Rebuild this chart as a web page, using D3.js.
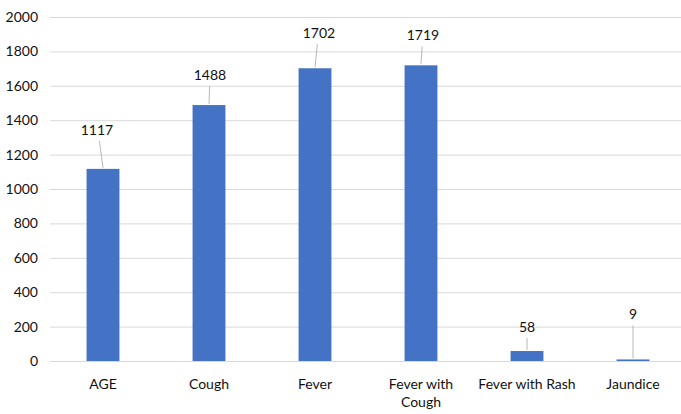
<!DOCTYPE html>
<html>
<head>
<meta charset="utf-8">
<script src="https://cdn.jsdelivr.net/npm/d3@7/dist/d3.min.js"></script>
<style>
  html, body { margin: 0; padding: 0; background: #fff; }
  svg { display: block; }
  text { font-family: 'Gill Sans', 'Lato', 'Open Sans', sans-serif; fill: #111; }
</style>
</head>
<body>
<svg id="chart"></svg>
<script>
const categories = ['AGE', 'Cough', 'Fever', 'Fever with Cough', 'Fever with Rash', 'Jaundice'];
const counts = [1117, 1488, 1702, 1719, 58, 9];
const yTicks = [0, 200, 400, 600, 800, 1000, 1200, 1400, 1600, 1800, 2000];

// hand-dragged data label offsets (px), as in the source sheet
const labelShift = [[-6, -39], [1, -30], [4, -35], [2, -30], [0, -24], [0, -45]];

const width = 681;
const height = 414;
const margin = { top: 17, right: -5, bottom: 53, left: 50 };

const svg = d3.select('#chart')
  .attr('width', width)
  .attr('height', height);

const x = d3.scaleBand()
  .domain(categories)
  .range([margin.left, width - margin.right])
  .paddingInner(0.69)
  .paddingOuter(0.345);

const y = d3.scaleLinear()
  .domain([0, 2000])
  .range([height - margin.bottom, margin.top]);

// gridlines
svg.append('g')
  .selectAll('line')
  .data(yTicks)
  .enter()
  .append('line')
  .attr('x1', margin.left)
  .attr('x2', width)
  .attr('y1', d => y(d) + 0.5)
  .attr('y2', d => y(d) + 0.5)
  .attr('stroke', '#d9d9d9')
  .attr('stroke-width', 1);

// y axis labels
const yAxis = d3.axisLeft(y)
  .tickValues(yTicks)
  .tickFormat(d3.format('d'))
  .tickSize(0)
  .tickPadding(12);
svg.append('g')
  .attr('transform', `translate(${margin.left},0)`)
  .call(yAxis)
  .call(g => g.select('.domain').remove())
  .selectAll('text')
  .style('font-family', "'Gill Sans', 'Lato', 'Open Sans', sans-serif")
  .style('font-size', '14px')
  .attr('fill', '#111');

// bars
svg.append('g')
  .selectAll('rect')
  .data(categories)
  .enter()
  .append('rect')
  .attr('x', d => x(d))
  .attr('width', x.bandwidth())
  .attr('y', (d, i) => y(counts[i]))
  .attr('height', (d, i) => y(0) - y(counts[i]))
  .attr('fill', '#4472c4');

// data labels with leader lines
const labels = svg.append('g')
  .selectAll('g')
  .data(categories)
  .enter()
  .append('g');

labels.append('line')
  .attr('x1', (d, i) => x(d) + x.bandwidth() / 2 + labelShift[i][0] * 0.6)
  .attr('y1', (d, i) => y(counts[i]) + labelShift[i][1] + 11)
  .attr('x2', d => x(d) + x.bandwidth() / 2)
  .attr('y2', (d, i) => y(counts[i]) - 1)
  .attr('stroke', '#a6a6a6')
  .attr('stroke-width', 0.8);

labels.append('text')
  .attr('x', (d, i) => x(d) + x.bandwidth() / 2 + labelShift[i][0])
  .attr('y', (d, i) => y(counts[i]) + labelShift[i][1])
  .attr('dy', '0.35em')
  .attr('text-anchor', 'middle')
  .style('font-size', '14px')
  .text((d, i) => counts[i]);

// category labels, wrapped like Excel does
const catLines = d => (d === 'Fever with Cough') ? ['Fever with', 'Cough'] : [d];
svg.append('g')
  .selectAll('text')
  .data(categories)
  .enter()
  .append('text')
  .attr('x', d => x(d) + x.bandwidth() / 2)
  .attr('y', y(0) + 28)
  .attr('text-anchor', 'middle')
  .style('font-size', '14px')
  .each(function(d) {
    const t = d3.select(this);
    catLines(d).forEach((line, j) => {
      t.append('tspan')
        .attr('x', x(d) + x.bandwidth() / 2)
        .attr('dy', j === 0 ? 0 : 18)
        .text(line);
    });
  });
</script>
</body>
</html>
